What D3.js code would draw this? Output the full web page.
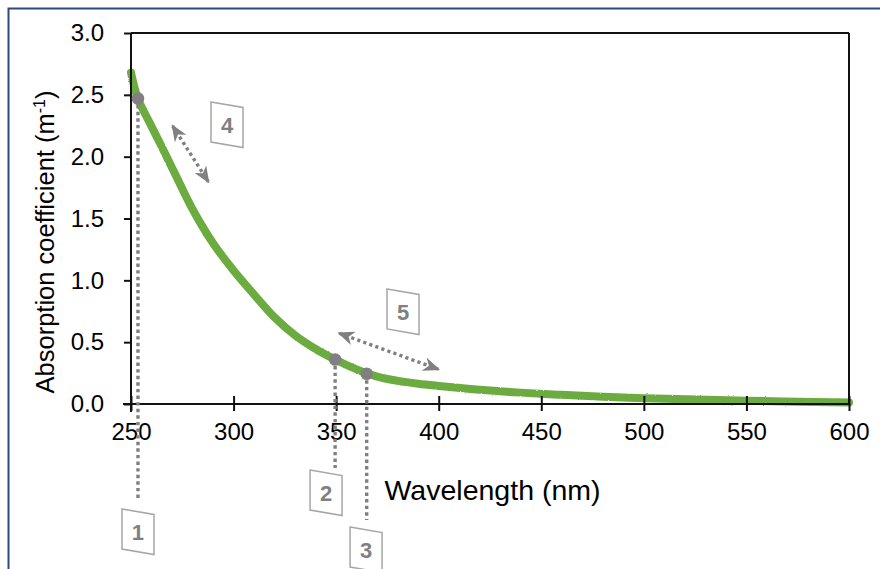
<!DOCTYPE html>
<html><head><meta charset="utf-8">
<script src="https://cdn.jsdelivr.net/npm/d3@7"></script>
<style>
html,body{margin:0;padding:0;background:#fff;}
svg{display:block;font-family:"Liberation Sans",Arial,sans-serif;}
</style></head>
<body><svg id="c" width="880" height="569"></svg>
<script>
// ---- data ----
const wavelengths = [250,252,254,256,260,265,270,275,280,285,290,295,300,310,320,330,340,350,360,365,370,375,380,390,400,420,440,460,480,500,525,550,575,600];
const absorption  = [2.68,2.54,2.445,2.375,2.245,2.08,1.91,1.74,1.575,1.43,1.30,1.185,1.08,0.885,0.70,0.555,0.445,0.356,0.28,0.248,0.222,0.202,0.187,0.164,0.146,0.115,0.092,0.074,0.058,0.046,0.036,0.027,0.019,0.012];
const xTicks = [250,300,350,400,450,500,550,600];
const yTicks = [0,0.5,1.0,1.5,2.0,2.5,3.0];
// marked points: wavelength, value, dotted line end value
const markWl  = [253.4, 349.5, 364.9];
const markVal = [2.47, 0.36, 0.245];
const markEnd = [-0.776, -0.517, -0.938];
// numbered boxes (top-left corner in data units)
const boxLabels = ["1","2","3","4","5"];
const boxWl  = [245.6, 337.3, 356.8, 289.0, 374.8];
const boxVal = [-0.849, -0.534, -0.995, 2.442, 0.930];
// double arrows
const arrowFromWl = [270.3, 351.5], arrowFromV = [2.248, 0.572];
const arrowToWl   = [287.7, 399.8], arrowToV   = [1.797, 0.281];

const svg = d3.select("#c");
const L=131, R=849, T=33, B=404;
const x = d3.scaleLinear().domain([250,600]).range([L,R]);
const y = d3.scaleLinear().domain([0,3]).range([B,T]);

const defs = svg.append("defs");
const f = defs.append("filter").attr("id","rough").attr("x","-5%").attr("y","-5%").attr("width","110%").attr("height","110%");
f.append("feTurbulence").attr("type","fractalNoise").attr("baseFrequency","0.6").attr("numOctaves",1).attr("seed",3).attr("result","n");
f.append("feDisplacementMap").attr("in","SourceGraphic").attr("in2","n").attr("scale",2.2);

// outer frame
svg.append("rect").attr("x",8.5).attr("y",8.5).attr("width",900).attr("height",600)
  .attr("fill","none").attr("stroke","#2F4A7C").attr("stroke-width",2);

// curve
const data = wavelengths.map((w,i)=>({w, v:absorption[i]}));
svg.append("path").datum(data)
  .attr("fill","none").attr("stroke","#6CAB3F").attr("stroke-width",8)
  .attr("stroke-linecap","round").attr("stroke-linejoin","round").attr("filter","url(#rough)")
  .attr("d", d3.line().x(d=>x(d.w)).y(d=>y(d.v)).curve(d3.curveMonotoneX));

// plot box top/right
svg.append("line").attr("x1",L).attr("x2",R).attr("y1",T).attr("y2",T).attr("stroke","#111").attr("stroke-width",2);
svg.append("line").attr("x1",R).attr("x2",R).attr("y1",T).attr("y2",B).attr("stroke","#111").attr("stroke-width",2);

// axes
const ya = svg.append("g").attr("transform",`translate(${L},0)`)
  .call(d3.axisLeft(y).tickValues(yTicks).tickFormat(d3.format(".1f")).tickSize(7).tickPadding(20).tickSizeOuter(0));
const xa = svg.append("g").attr("transform",`translate(0,${B})`)
  .call(d3.axisBottom(x).tickValues(xTicks).tickFormat(d3.format("d")).tickSize(7).tickPadding(14).tickSizeOuter(0));
[ya,xa].forEach(g=>{
  g.select(".domain").attr("stroke","#111").attr("stroke-width",2);
  g.selectAll(".tick line").attr("stroke","#111").attr("stroke-width",2);
  g.selectAll(".tick text").attr("fill","#000").style("font-size","24px").style("font-family","'Liberation Sans',Arial,sans-serif");
});
xa.selectAll(".tick line").attr("y1",-8).attr("y2",7);
xa.select(".domain").attr("d",`M${L-8},0H${R}`);
ya.select(".domain").attr("d",`M0,${T}V${B+8}`);
xa.selectAll(".tick text").attr("y",19).attr("dy","0.71em");

// axis titles
svg.append("text").attr("x",492.5).attr("y",500).attr("text-anchor","middle")
  .style("font-size","28.5px").attr("fill","#000").text("Wavelength (nm)");
const yt = svg.append("text").attr("transform",`translate(54,${242}) rotate(-90)`)
  .attr("text-anchor","middle").style("font-size","25.5px").attr("fill","#000");
yt.append("tspan").text("Absorption coefficient (m");
yt.append("tspan").attr("dy",-9).style("font-size","16px").text("-1");
yt.append("tspan").attr("dy",9).text(")");

// dotted drop lines
const gray="#808080";
markWl.forEach((w,i)=>{
  svg.append("line").attr("x1",x(w)).attr("x2",x(w)).attr("y1",y(markVal[i])).attr("y2",y(markEnd[i]))
    .attr("stroke",gray).attr("stroke-width",3.4).attr("stroke-dasharray","3.4,3.2");
});
markWl.forEach((w,i)=>{
  svg.append("circle").attr("cx",x(w)).attr("cy",y(markVal[i])).attr("r",6.3).attr("fill",gray);
});

// arrow markers
defs.append("marker").attr("id","ah").attr("viewBox","0 0 17 14").attr("refX",15).attr("refY",7)
  .attr("markerWidth",17).attr("markerHeight",14).attr("markerUnits","userSpaceOnUse").attr("orient","auto-start-reverse")
  .append("path").attr("d","M0,0 L17,7 L0,14 L5,7 Z").attr("fill",gray);
arrowFromWl.forEach((w,i)=>{
  svg.append("line").attr("x1",x(w)).attr("y1",y(arrowFromV[i])).attr("x2",x(arrowToWl[i])).attr("y2",y(arrowToV[i]))
    .attr("stroke",gray).attr("stroke-width",3.4).attr("stroke-dasharray","3.2,3.2")
    .attr("marker-start","url(#ah)").attr("marker-end","url(#ah)");
});

// numbered boxes (slightly skewed)
const bw=32, bh=40, sk=5.5;
boxLabels.forEach((t,i)=>{
  const x0=x(boxWl[i]), y0=y(boxVal[i]);
  svg.append("path").attr("d",`M${x0},${y0} L${x0+bw},${y0+sk} L${x0+bw},${y0+sk+bh} L${x0},${y0+bh} Z`)
    .attr("fill","#fff").attr("stroke","#A6A6A6").attr("stroke-width",1.5);
  svg.append("text").attr("x",x0+bw/2).attr("y",y0+bh/2+sk/2+8).attr("text-anchor","middle")
    .style("font-size","22px").style("font-weight","bold").attr("fill",gray).text(t);
});
</script></body></html>
